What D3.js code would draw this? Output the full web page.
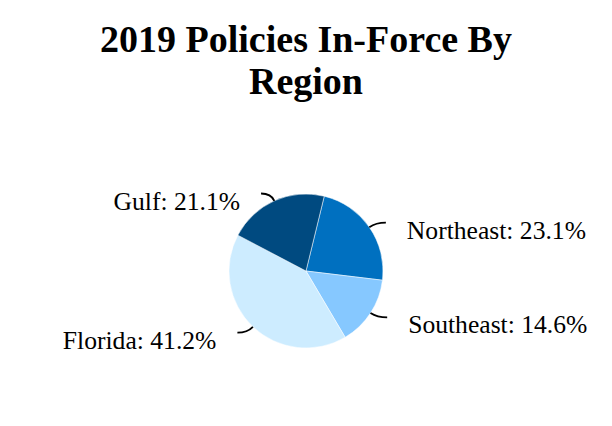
<!DOCTYPE html>
<html>
<head>
<meta charset="utf-8">
<script src="https://d3js.org/d3.v7.min.js"></script>
<style>
  html, body { margin: 0; padding: 0; background: #fff; }
  svg { display: block; }
</style>
</head>
<body>
<div id="chart"></div>
<script>
// 2019 Policies In-Force By Region
const titleLines = ['2019 Policies In-Force By', 'Region'];
const regions = ['Northeast', 'Southeast', 'Florida', 'Gulf'];
const shares = [23.1, 14.6, 41.2, 21.1];
const colors = ['#0070c0', '#86c8ff', '#cdecff', '#004a80'];

const width = 612;
const height = 426;
const cx = 306, cy = 271, radius = 77;
const startAngle = 13.7 * Math.PI / 180;

const svg = d3.select('#chart').append('svg')
    .attr('width', width)
    .attr('height', height);

// Title
svg.append('text')
    .attr('x', width / 2)
    .attr('text-anchor', 'middle')
    .style('font-family', '"Liberation Serif", "Times New Roman", serif')
    .style('font-size', '38px')
    .style('font-weight', 'bold')
    .style('fill', '#000')
    .selectAll('tspan')
    .data(titleLines)
    .join('tspan')
    .attr('x', width / 2)
    .attr('y', (d, i) => 52 + i * 41.5)
    .text(d => d);

const data = regions.map((r, i) => ({ region: r, value: shares[i], color: colors[i] }));

const pie = d3.pie()
    .sort(null)
    .value(d => d.value)
    .startAngle(startAngle)
    .endAngle(startAngle + 2 * Math.PI);

const arc = d3.arc().innerRadius(0).outerRadius(radius);

const g = svg.append('g').attr('transform', `translate(${cx},${cy})`);
const arcs = pie(data);

g.selectAll('path.slice')
    .data(arcs)
    .join('path')
    .attr('class', 'slice')
    .attr('d', arc)
    .attr('fill', d => d.data.color)
    .attr('stroke', '#fff')
    .attr('stroke-width', 0.5);

// Leader lines and labels
function leader(d) {
    const a = (d.startAngle + d.endAngle) / 2;
    const ux = Math.sin(a), uy = -Math.cos(a);
    const side = ux >= 0 ? 1 : -1;
    const p = [ux * radius, uy * radius];
    const c = [p[0] + ux * 8, p[1] + uy * 8];
    const e = [c[0] + side * 10, c[1]];
    return { p, c, e, side };
}

g.selectAll('path.leader')
    .data(arcs)
    .join('path')
    .attr('class', 'leader')
    .attr('d', d => {
        const l = leader(d);
        return `M${l.p[0]},${l.p[1]}Q${l.c[0]},${l.c[1]} ${l.e[0]},${l.e[1]}`;
    })
    .attr('fill', 'none')
    .attr('stroke', '#000')
    .attr('stroke-width', 1.8);

g.selectAll('text.label')
    .data(arcs)
    .join('text')
    .attr('class', 'label')
    .attr('x', d => { const l = leader(d); return l.e[0] + l.side * 21; })
    .attr('y', d => leader(d).e[1] + 16)
    .attr('text-anchor', d => leader(d).side > 0 ? 'start' : 'end')
    .style('font-family', '"Liberation Serif", "Times New Roman", serif')
    .style('font-size', '25.6px')
    .style('fill', '#000')
    .text(d => `${d.data.region}: ${d3.format('.1f')(d.data.value)}%`);
</script>
</body>
</html>
